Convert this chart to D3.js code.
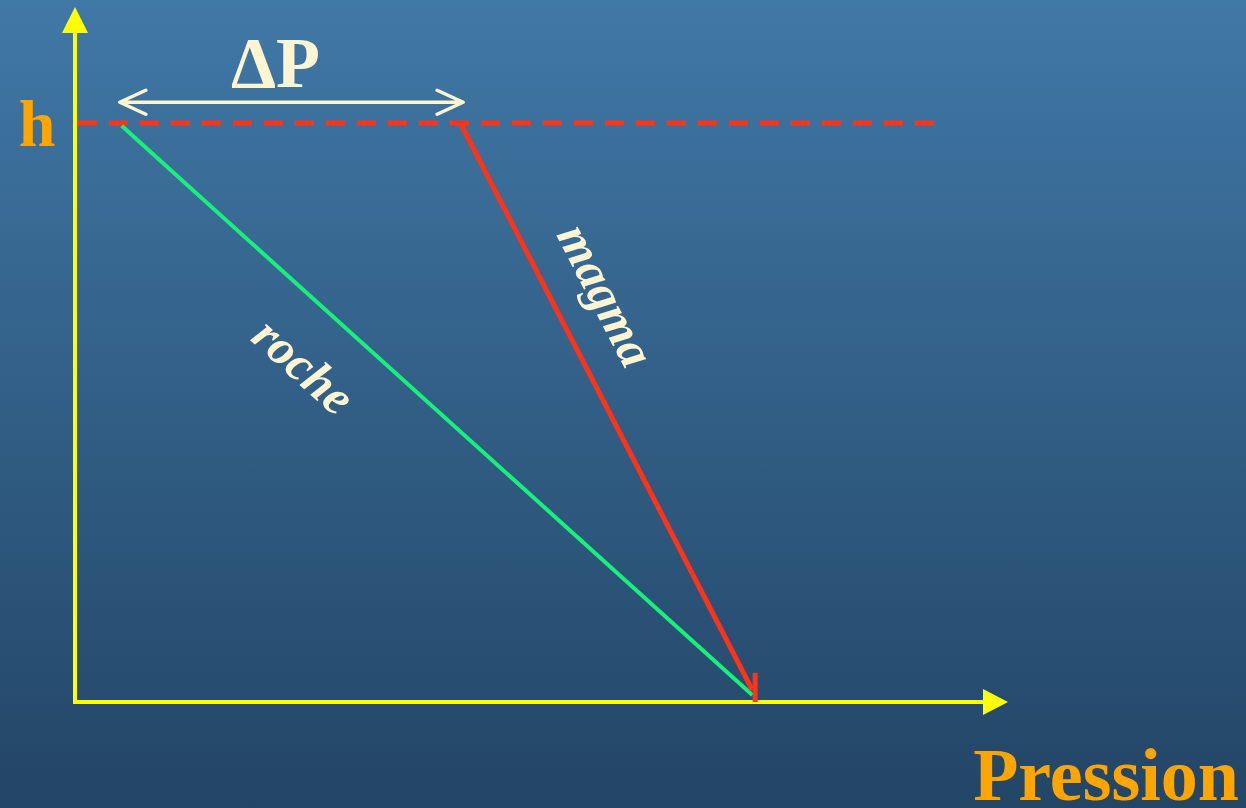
<!DOCTYPE html>
<html>
<head>
<meta charset="utf-8">
<script src="https://cdn.jsdelivr.net/npm/d3@7"></script>
<style>
  html, body { margin: 0; padding: 0; overflow: hidden; }
  svg { display: block; }
</style>
</head>
<body>
<svg id="chart" width="1246" height="808"></svg>
<script>
// schematic values (pressure on x, height on y, both 0..100)
var hLevel = 83.3;
var hLineEnd = 92.7;
var rockPressure = [5.0, 72.6];     // at h, at base
var rockHeight = [82.9, 1.0];
var magmaPressure = [41.3, 72.6];
var magmaHeight = [hLevel, 1.7];
var baseTick = { pressure: 72.9, height: [0, 4.2] };
var deltaP = [4.8, 41.6];
var deltaPHeight = 86.3;
var labels = ["h", "ΔP", "Pression", "roche", "magma"];

var svg = d3.select("#chart"),
    width = +svg.attr("width"),
    height = +svg.attr("height");

var x = d3.scaleLinear().domain([0, 100]).range([75, 1008]),
    y = d3.scaleLinear().domain([0, 100]).range([702, 7]);

var defs = svg.append("defs");
var grad = defs.append("linearGradient")
    .attr("id", "bg").attr("x1", 0).attr("y1", 0).attr("x2", 0).attr("y2", 1);
grad.append("stop").attr("offset", "0%").attr("stop-color", "#4078a6");
grad.append("stop").attr("offset", "100%").attr("stop-color", "#234566");

svg.append("rect")
    .attr("width", width).attr("height", height)
    .attr("fill", "url(#bg)");

var g = svg.append("g");

// axes (no ticks, just the lines)
g.append("g")
    .attr("class", "axis axisx")
    .attr("transform", "translate(0," + y(0) + ")")
    .call(d3.axisBottom(x).tickValues([]).tickSizeOuter(0))
    .select(".domain")
    .attr("d", "M" + x(0) + ",0H" + (x(100) - 20))
    .attr("stroke", "#ffff00").attr("stroke-width", 4);

g.append("g")
    .attr("class", "axis axisy")
    .attr("transform", "translate(" + x(0) + ",0)")
    .call(d3.axisLeft(y).tickValues([]).tickSizeOuter(0))
    .select(".domain")
    .attr("d", "M0," + (y(0) + 2) + "V" + (y(100) + 20))
    .attr("stroke", "#ffff00").attr("stroke-width", 4);

// arrow heads of the axes
g.append("path")
    .attr("d", "M" + x(100) + "," + y(0) + "L" + (x(100) - 25) + "," + (y(0) - 13) +
               "L" + (x(100) - 25) + "," + (y(0) + 13) + "Z")
    .attr("fill", "#ffff00");
g.append("path")
    .attr("d", "M" + x(0) + "," + y(100) + "L" + (x(0) - 13) + "," + (y(100) + 26) +
               "L" + (x(0) + 13) + "," + (y(100) + 26) + "Z")
    .attr("fill", "#ffff00");

// dashed level h
g.append("line")
    .attr("x1", x(0.3)).attr("x2", x(hLineEnd))
    .attr("y1", y(hLevel)).attr("y2", y(hLevel))
    .attr("stroke", "#ff3318").attr("stroke-width", 5)
    .attr("stroke-dasharray", "19,12");

var line = d3.line()
    .x(function(d) { return x(d[0]); })
    .y(function(d) { return y(d[1]); });

// roche
g.append("path")
    .datum(d3.zip(rockPressure, rockHeight))
    .attr("d", line)
    .attr("fill", "none")
    .attr("stroke", "#18f07c")
    .attr("stroke-width", 4);

// magma
g.append("path")
    .datum(d3.zip(magmaPressure, magmaHeight))
    .attr("d", line)
    .attr("fill", "none")
    .attr("stroke", "#ff3318")
    .attr("stroke-width", 5);

g.append("line")
    .attr("x1", x(baseTick.pressure)).attr("x2", x(baseTick.pressure))
    .attr("y1", y(baseTick.height[0])).attr("y2", y(baseTick.height[1]))
    .attr("stroke", "#ff3318").attr("stroke-width", 5);

// delta P double arrow
var x0 = x(deltaP[0]), x1 = x(deltaP[1]), yd = y(deltaPHeight);
g.append("path")
    .attr("d", "M" + x0 + "," + yd + "H" + x1 +
               "M" + (x0 + 26) + "," + (yd - 12) + "L" + x0 + "," + yd + "L" + (x0 + 26) + "," + (yd + 12) +
               "M" + (x1 - 26) + "," + (yd - 12) + "L" + x1 + "," + yd + "L" + (x1 - 26) + "," + (yd + 12))
    .attr("fill", "none")
    .attr("stroke", "#fff5d2")
    .attr("stroke-width", 3.5)
    .attr("stroke-linecap", "round")
    .attr("stroke-linejoin", "round");

var font = "'Liberation Serif', 'Times New Roman', serif";

g.append("text")
    .attr("x", 37).attr("y", 146)
    .attr("text-anchor", "middle")
    .attr("font-family", font).attr("font-weight", "bold")
    .attr("font-size", 66).attr("fill", "#ffa500")
    .text(labels[0]);

g.append("text")
    .attr("x", (x0 + x1) / 2 - 16).attr("y", 87)
    .attr("text-anchor", "middle")
    .attr("font-family", font).attr("font-weight", "bold")
    .attr("font-size", 72).attr("fill", "#fff5d2")
    .text(labels[1]);

g.append("text")
    .attr("x", 1239).attr("y", 800)
    .attr("text-anchor", "end")
    .attr("font-family", font).attr("font-weight", "bold")
    .attr("font-size", 74).attr("fill", "#ffa500")
    .text(labels[2]);

// slope labels along the lines
function angleOf(px, hy) {
  return Math.atan2(y(hy[1]) - y(hy[0]), x(px[1]) - x(px[0])) * 180 / Math.PI;
}

g.append("text")
    .attr("transform", "translate(304,366) rotate(" + angleOf(rockPressure, rockHeight) + ")")
    .attr("text-anchor", "middle")
    .attr("dominant-baseline", "central")
    .attr("font-family", font).attr("font-weight", "bold").attr("font-style", "italic")
    .attr("font-size", 50).attr("fill", "#fff5d2")
    .text(labels[3]);

g.append("text")
    .attr("transform", "translate(606,295) rotate(" + angleOf(magmaPressure, magmaHeight) + ")")
    .attr("text-anchor", "middle")
    .attr("dominant-baseline", "central")
    .attr("font-family", font).attr("font-weight", "bold").attr("font-style", "italic")
    .attr("font-size", 50).attr("fill", "#fff5d2")
    .text(labels[4]);
</script>
</body>
</html>
